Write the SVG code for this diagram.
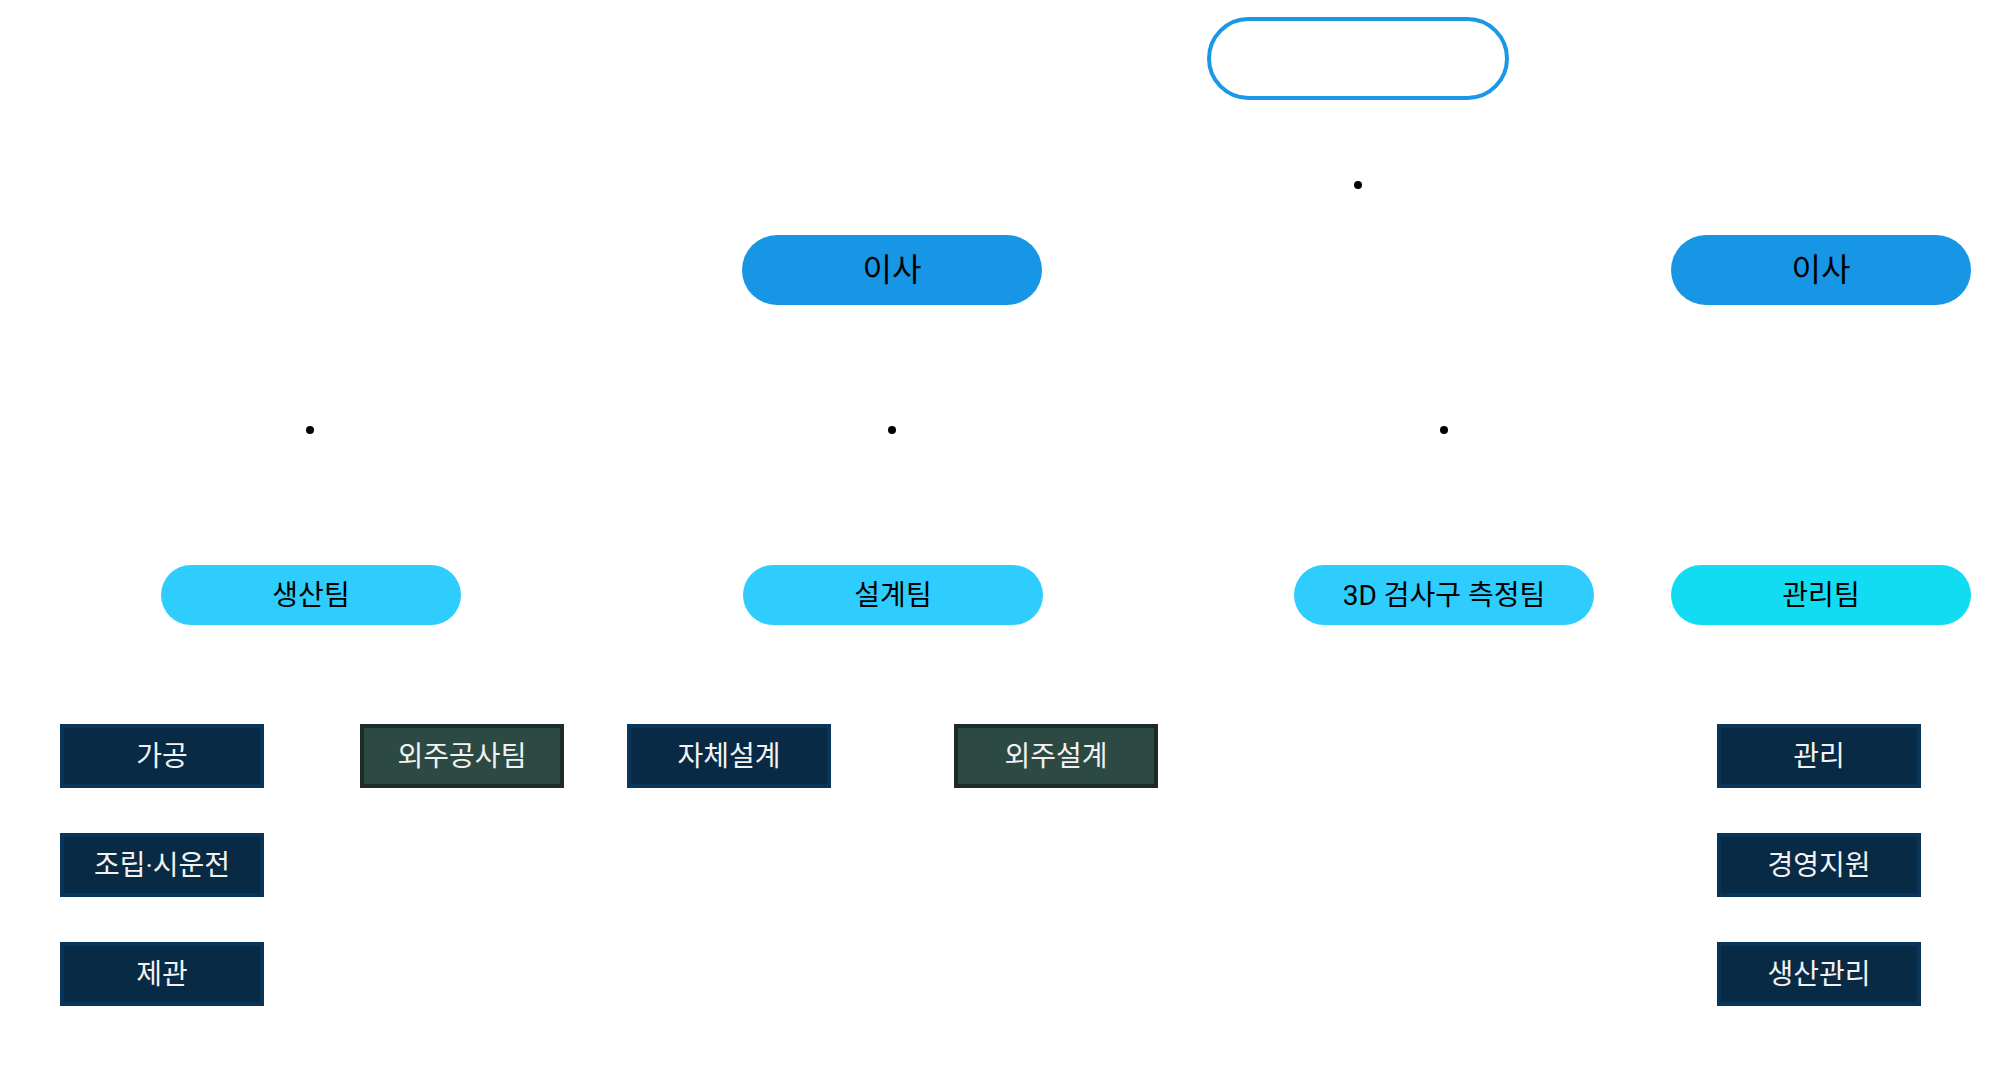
<svg xmlns="http://www.w3.org/2000/svg" width="2000" height="1080" viewBox="0 0 2000 1080">
<style>
text{font-family:Roboto,"Noto Sans CJK KR",sans-serif;text-anchor:middle}
.root{fill:#ffffff;stroke:#1A98E5;stroke-width:4}
.dir{fill:#1696E4}
.team{fill:#2ECDFE}
.team2{fill:#12DCF2}
.box{fill:#082A44;stroke:#0A355A;stroke-width:4}
.obox{fill:#2C4A43;stroke:#1D2A27;stroke-width:4}
.t1{font-size:32px;fill:#000}
.t2{font-size:28px;fill:#000}
.t3{font-size:28px;fill:#F2F2F2}
.dot{fill:#000}
</style>
<rect width="2000" height="1080" fill="#ffffff"/>
<g id="connectors">
<circle class="dot" cx="1358" cy="185" r="4"/>
<circle class="dot" cx="310" cy="430" r="4"/>
<circle class="dot" cx="892" cy="430" r="4"/>
<circle class="dot" cx="1444" cy="430" r="4"/>
</g>
<g id="root"><rect class="root" x="1209" y="19" width="298" height="79" rx="39.5"/></g>
<g id="director1"><rect class="dir" x="742" y="235" width="300" height="70" rx="35"/><text class="t1" x="892" y="281">이사</text></g>
<g id="director2"><rect class="dir" x="1671" y="235" width="300" height="70" rx="35"/><text class="t1" x="1821" y="281">이사</text></g>
<g id="team-production"><rect class="team" x="161" y="565" width="300" height="60" rx="30"/><text class="t2" x="311" y="605">생산팀</text></g>
<g id="team-design"><rect class="team" x="743" y="565" width="300" height="60" rx="30"/><text class="t2" x="893" y="605">설계팀</text></g>
<g id="team-3d"><rect class="team" x="1294" y="565" width="300" height="60" rx="30"/><text class="t2" x="1444" y="605">3D 검사구 측정팀</text></g>
<g id="team-admin"><rect class="team2" x="1671" y="565" width="300" height="60" rx="30"/><text class="t2" x="1821" y="605">관리팀</text></g>
<g id="n-gagong"><rect class="box" x="62" y="726" width="200" height="60"/><text class="t3" x="162" y="766">가공</text></g>
<g id="n-assembly"><rect class="box" x="62" y="835" width="200" height="60"/><text class="t3" x="162" y="875">조립·시운전</text></g>
<g id="n-jegwan"><rect class="box" x="62" y="944" width="200" height="60"/><text class="t3" x="162" y="984">제관</text></g>
<g id="n-outsource-work"><rect class="obox" x="362" y="726" width="200" height="60"/><text class="t3" x="462" y="766">외주공사팀</text></g>
<g id="n-inhouse-design"><rect class="box" x="629" y="726" width="200" height="60"/><text class="t3" x="729" y="766">자체설계</text></g>
<g id="n-outsource-design"><rect class="obox" x="956" y="726" width="200" height="60"/><text class="t3" x="1056" y="766">외주설계</text></g>
<g id="n-manage"><rect class="box" x="1719" y="726" width="200" height="60"/><text class="t3" x="1819" y="766">관리</text></g>
<g id="n-support"><rect class="box" x="1719" y="835" width="200" height="60"/><text class="t3" x="1819" y="875">경영지원</text></g>
<g id="n-prodmgmt"><rect class="box" x="1719" y="944" width="200" height="60"/><text class="t3" x="1819" y="984">생산관리</text></g>
</svg>
